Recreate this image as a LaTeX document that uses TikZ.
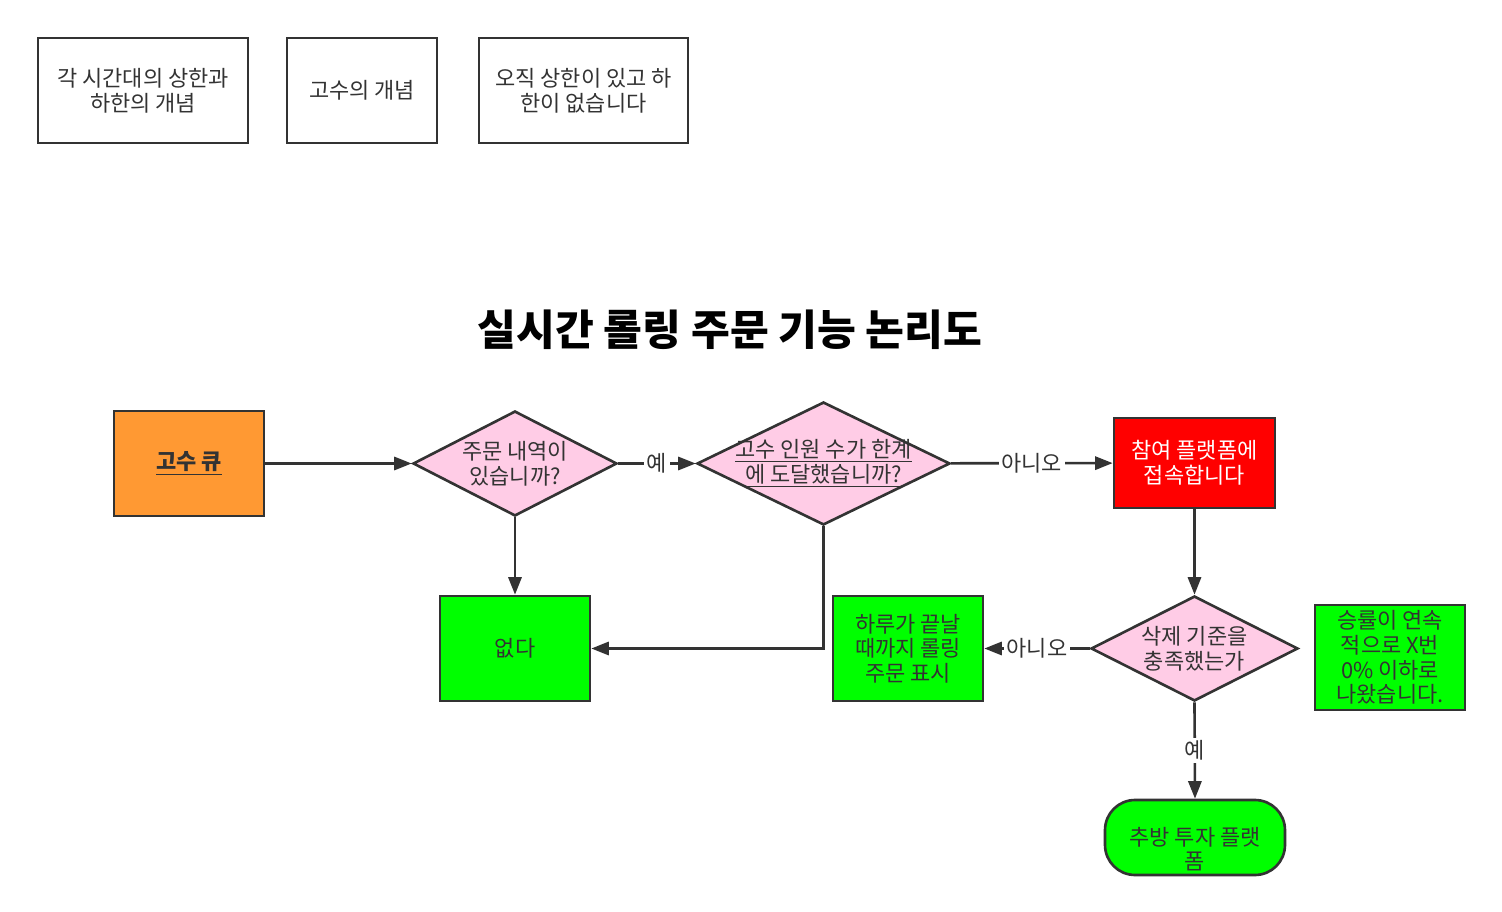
\documentclass[tikz,border=0pt]{standalone}
\usepackage{fontspec}
\setmainfont{Noto Sans CJK KR}
\usepackage{tikz}
\usetikzlibrary{arrows.meta,positioning,shapes.geometric}
\definecolor{pf-line}{HTML}{333333}
\definecolor{pf-orange}{HTML}{FF9933}
\definecolor{pf-pink}{HTML}{FFCCE6}
\definecolor{pf-red}{HTML}{FF0000}
\definecolor{pf-green}{HTML}{00FF00}

\begin{document}
\begin{tikzpicture}[x=0.02cm, y=-0.02cm,
  >={Triangle[length=10pt,width=7.5pt]},
  txt/.style={align=center, text=pf-line, font=\fontsize{12.5}{14}\selectfont},
  box/.style={txt, draw=pf-line, line width=1.5pt, inner sep=0pt},
  decision/.style={diamond, draw=pf-line, line width=1.5pt, fill=pf-pink, inner sep=0pt},
  flow/.style={->, draw=pf-line, line width=1.5pt},
  lbl/.style={txt, fill=white, inner sep=1.5pt}]
\useasboundingbox (0,0) rectangle (1502,912);

% notes on top
\node[box, minimum width=4.2cm, minimum height=2.1cm] (limits) at (143,90.5) {각 시간대의 상한과\\하한의 개념};
\node[box, minimum width=3cm, minimum height=2.1cm] (master) at (362,90.5) {고수의 개념};
\node[box, minimum width=4.18cm, minimum height=2.1cm] (upper) at (583.5,90.5) {오직 상한이 있고 하\\한이 없습니다};

\node[font=\bfseries\fontsize{24}{28}\selectfont] (title) at (730,330) {실시간 롤링 주문 기능 논리도};

% flow
\node[box, fill=pf-orange, minimum width=3cm, minimum height=2.1cm] (queue) at (189,463.5) {\textbf{\underline{고수 큐}}};
\node[decision, minimum width=4.08cm, minimum height=2.1cm] (d1) at (515,463.5) {};
\node[txt] (d1t) at (d1) {주문 내역이\\있습니까?};
\node[decision, minimum width=5.06cm, minimum height=2.46cm] (d2) at (823.5,463.5) {};
\node[txt] (d2t) at (d2) {\underline{고수 인원 수가 한계}\\\underline{에 도달했습니까?}};
\node[box, fill=pf-red, text=white, minimum width=3.22cm, minimum height=1.8cm] (join) at (1194.5,463) {참여 플랫폼에\\접속합니다};
\node[box, fill=pf-green, minimum width=3cm, minimum height=2.1cm] (none) at (515,648.5) {없다};
\node[box, fill=pf-green, minimum width=3cm, minimum height=2.1cm] (daily) at (908,648.5) {하루가 끝날\\때까지 롤링\\주문 표시};
\node[decision, minimum width=4.14cm, minimum height=2.1cm] (d3) at (1194.5,648.5) {};
\node[txt] (d3t) at (d3) {삭제 기준을\\충족했는가};
\node[box, fill=pf-green, minimum width=3cm, minimum height=2.1cm] (winrate) at (1390,657.5) {승률이 연속\\적으로 X번\\0\% 이하로\\나왔습니다.};
\node[box, fill=pf-green, rounded corners=0.6cm, minimum width=3.6cm, minimum height=1.5cm] (kick) at (1195,837.5) {};
\node[txt] (kickt) at (1195,849) {추방 투자 플랫\\폼};

\draw[flow] (queue) -- (d1);
\draw[flow] (d1) -- node[lbl] {예} (d2);
\draw[flow] (d2) -- node[lbl] {아니오} (join);
\draw[flow] (d1) -- (none);
\draw[flow] (d2.south) |- (none.east);
\draw[flow] (join) -- (d3);
\draw[flow] (d3) -- node[lbl] {아니오} (daily);
\draw[flow] (d3.south) -- node[lbl] {예} (kick.north);
\end{tikzpicture}
\end{document}
